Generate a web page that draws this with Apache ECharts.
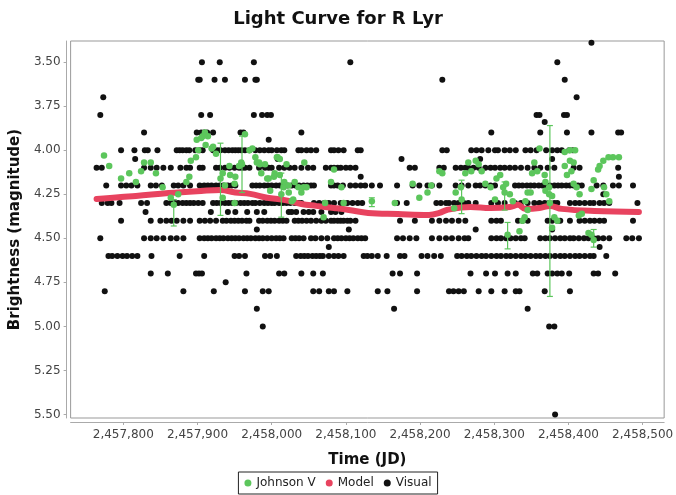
<!DOCTYPE html>
<html><head><meta charset="utf-8">
<script src="https://cdn.jsdelivr.net/npm/echarts@6/dist/echarts.min.js"></script>
<style>html,body{margin:0;padding:0;background:#fff}#c{width:676px;height:495px}</style>
</head><body><div id="c"></div>
<script>
const JD0 = 2457000;
const xTicks = [2457800, 2457900, 2458000, 2458100, 2458200, 2458300, 2458400, 2458500];
const yTicks = [3.5, 3.75, 4.0, 4.25, 4.5, 4.75, 5.0, 5.25, 5.5];

// Visual observations: magnitude rows and the days (JD - JD0) observed at each
const visualMags = [3.39, 3.5, 3.6, 3.7, 3.8, 3.84, 3.9, 3.94, 4.0, 4.05, 4.1, 4.15, 4.2, 4.25, 4.3, 4.35, 4.4, 4.45, 4.5, 4.55, 4.6, 4.7, 4.75, 4.8, 4.9, 5.0, 5.5];
const visualDays = [
 [1431],
 [906, 930, 976, 1106, 1385],
 [901, 903, 923, 937, 964, 978, 980, 1230, 1395],
 [773, 1411],
 [769, 905, 917, 976, 987, 994, 999, 1357, 1361, 1394, 1398],
 [1368],
 [828, 899, 905, 909, 913, 921, 958, 962, 1040, 1296, 1362, 1398, 1431, 1467, 1471],
 [996],
 [797, 815, 829, 833, 846, 872, 876, 880, 885, 889, 897, 903, 907, 921, 927, 931, 937, 942, 947, 951, 955, 959, 964, 970, 978, 984, 990, 996, 1000, 1007, 1013, 1017, 1036, 1040, 1047, 1053, 1060, 1080, 1084, 1090, 1097, 1116, 1120, 1230, 1236, 1269, 1276, 1283, 1292, 1301, 1305, 1314, 1321, 1329, 1342, 1349, 1357, 1370, 1378, 1385, 1391, 1401, 1406],
 [816, 1008, 1175, 1281, 1378],
 [764, 771, 828, 837, 845, 854, 864, 877, 885, 890, 903, 907, 925, 930, 937, 943, 950, 956, 960, 964, 970, 983, 991, 996, 1000, 1010, 1017, 1024, 1031, 1040, 1049, 1056, 1073, 1080, 1084, 1089, 1093, 1100, 1106, 1113, 1186, 1193, 1226, 1232, 1248, 1255, 1261, 1265, 1272, 1279, 1288, 1295, 1301, 1308, 1314, 1321, 1328, 1336, 1345, 1354, 1362, 1372, 1381, 1407, 1415, 1467],
 [1120, 1468],
 [777, 797, 804, 811, 819, 837, 844, 852, 868, 874, 881, 890, 903, 909, 914, 919, 925, 930, 935, 941, 946, 951, 974, 979, 984, 990, 995, 1000, 1006, 1011, 1016, 1021, 1027, 1032, 1037, 1043, 1048, 1053, 1057, 1080, 1084, 1089, 1096, 1106, 1113, 1120, 1126, 1135, 1146, 1169, 1190, 1199, 1210, 1216, 1226, 1248, 1256, 1265, 1275, 1281, 1288, 1295, 1301, 1328, 1333, 1338, 1344, 1349, 1354, 1360, 1365, 1370, 1375, 1381, 1386, 1391, 1397, 1402, 1407, 1413, 1418, 1438, 1447, 1460, 1468, 1487],
 [1447],
 [771, 779, 784, 795, 824, 832, 858, 864, 869, 874, 880, 885, 890, 895, 901, 907, 921, 926, 931, 937, 942, 947, 952, 958, 963, 968, 974, 978, 984, 990, 995, 1000, 1004, 1010, 1015, 1020, 1025, 1031, 1036, 1040, 1057, 1064, 1071, 1077, 1084, 1093, 1097, 1102, 1109, 1116, 1122, 1169, 1182, 1222, 1228, 1235, 1239, 1246, 1252, 1259, 1265, 1275, 1296, 1305, 1314, 1328, 1336, 1345, 1354, 1361, 1368, 1374, 1381, 1385, 1402, 1409, 1415, 1422, 1429, 1434, 1442, 1448, 1455, 1493],
 [830, 918, 941, 951, 967, 980, 990, 1023, 1027, 1033, 1043, 1050, 1056, 1067, 1080, 1086, 1094],
 [797, 837, 850, 858, 865, 872, 881, 890, 903, 910, 917, 925, 934, 939, 945, 950, 955, 960, 966, 970, 983, 988, 994, 999, 1004, 1010, 1015, 1020, 1031, 1036, 1041, 1047, 1053, 1060, 1067, 1073, 1080, 1084, 1089, 1093, 1097, 1102, 1106, 1113, 1173, 1193, 1216, 1226, 1235, 1243, 1252, 1261, 1296, 1303, 1309, 1332, 1338, 1345, 1372, 1378, 1385, 1389, 1402, 1415, 1422, 1429, 1435, 1442, 1448, 1487],
 [980, 1104, 1275, 1378],
 [769, 828, 837, 845, 854, 864, 872, 881, 903, 909, 914, 919, 925, 930, 935, 941, 946, 951, 956, 962, 967, 972, 978, 983, 988, 994, 1000, 1006, 1011, 1016, 1027, 1032, 1037, 1043, 1053, 1059, 1067, 1075, 1084, 1089, 1094, 1100, 1105, 1110, 1116, 1121, 1126, 1169, 1177, 1186, 1195, 1216, 1226, 1235, 1243, 1252, 1260, 1265, 1296, 1303, 1309, 1316, 1322, 1329, 1336, 1341, 1362, 1369, 1375, 1382, 1389, 1395, 1402, 1407, 1414, 1421, 1427, 1434, 1440, 1447, 1455, 1478, 1486, 1495],
 [1077, 1442],
 [780, 785, 792, 799, 805, 812, 819, 838, 876, 909, 950, 956, 964, 991, 998, 1007, 1033, 1039, 1044, 1049, 1055, 1060, 1065, 1069, 1077, 1084, 1090, 1097, 1124, 1129, 1135, 1143, 1155, 1173, 1179, 1202, 1210, 1219, 1228, 1250, 1256, 1263, 1269, 1276, 1283, 1289, 1296, 1303, 1309, 1316, 1322, 1329, 1336, 1342, 1349, 1356, 1362, 1369, 1375, 1382, 1389, 1395, 1402, 1409, 1415, 1422, 1429, 1434, 1451],
 [837, 860, 898, 902, 906, 966, 1010, 1017, 1040, 1056, 1069, 1163, 1173, 1196, 1268, 1289, 1301, 1318, 1329, 1352, 1358, 1372, 1378, 1385, 1391, 1401, 1434, 1440, 1463],
 [938],
 [775, 881, 922, 964, 988, 996, 1056, 1064, 1077, 1084, 1102, 1143, 1156, 1196, 1239, 1245, 1252, 1259, 1279, 1296, 1314, 1329, 1334, 1368, 1402],
 [980, 1165, 1345],
 [988, 1374, 1381],
 [1382]
];

// Johnson V photometry (JD - JD0, magnitude)
const jvDays = [774, 781, 797, 808, 817, 824, 828, 837, 844, 853, 864, 868, 874, 885, 889, 891, 898, 899, 901, 905, 907, 910, 911, 914, 919, 921, 925, 931, 934, 934, 937, 943, 944, 950, 950, 951, 956, 959, 960, 964, 970, 974, 978, 980, 983, 984, 986, 991, 994, 996, 998, 1003, 1004, 1007, 1008, 1011, 1011, 1013, 1016, 1017, 1020, 1023, 1023, 1027, 1029, 1031, 1036, 1040, 1043, 1044, 1047, 1070, 1072, 1080, 1084, 1094, 1097,
 1135, 1166, 1190, 1199, 1210, 1215, 1226, 1230, 1246, 1248, 1255, 1256, 1261, 1265, 1269, 1275, 1279, 1283, 1288, 1295, 1301, 1303, 1308, 1312, 1314, 1316, 1318, 1321, 1325,
 1334, 1338, 1341, 1342, 1345, 1345, 1349, 1351, 1354, 1358, 1361, 1368, 1369, 1369, 1374, 1374, 1375, 1378, 1378, 1381, 1385, 1395, 1395, 1398, 1402, 1402, 1404, 1407, 1407, 1409, 1411, 1414, 1415, 1418, 1427, 1431, 1431, 1434, 1434, 1440, 1442, 1447, 1448, 1451, 1454, 1455, 1460, 1468];
const jvMags = [4.03, 4.09, 4.16, 4.13, 4.18, 4.12, 4.07, 4.07, 4.13, 4.21, 4.27, 4.31, 4.25, 4.18, 4.15, 4.06, 4.04, 3.94, 4.00, 3.93, 3.92, 3.90, 3.97, 3.92, 3.99, 3.98, 4.02, 4.16, 4.13, 4.27, 4.20, 4.09, 4.14, 4.19, 4.30, 4.15, 4.09, 4.07, 4.08, 3.91, 4.00, 3.99, 4.04, 4.07, 4.07, 4.08, 4.13, 4.08, 4.16, 4.16, 4.23, 4.15, 4.13, 4.04, 4.04, 4.05, 4.14, 4.25, 4.21, 4.18, 4.08, 4.24, 4.20, 4.29, 4.28, 4.18, 4.21, 4.24, 4.21, 4.07, 4.21, 4.38, 4.30, 4.18, 4.11, 4.21, 4.30,
 4.29, 4.30, 4.19, 4.27, 4.24, 4.20, 4.12, 4.13, 4.33, 4.24, 4.21, 4.28, 4.13, 4.07, 4.12, 4.06, 4.08, 4.12, 4.19, 4.21, 4.28, 4.16, 4.14, 4.21, 4.24, 4.19, 4.48, 4.25, 4.29,
 4.46, 4.40, 4.38, 4.29, 4.34, 4.24, 4.24, 4.13, 4.07, 4.12, 3.99, 4.14, 4.18, 4.23, 4.21, 4.25, 4.30, 4.26, 4.44, 4.38, 4.40, 4.01, 4.09, 4.14, 4.00, 4.06, 4.12, 4.07, 4.19, 4.00, 4.21, 4.37, 4.25, 4.36, 4.47, 4.48, 4.22, 4.17, 4.51, 4.11, 4.09, 4.06, 4.21, 4.25, 4.04, 4.29, 4.04, 4.04];

// Johnson V error bars (JD - JD0, bright end, faint end)
const errDays = [868, 931, 960, 1013, 1135, 1256, 1314, 1318, 1375, 1434];
const errLow  = [4.28, 3.96, 3.92, 4.13, 4.27, 4.17, 4.18, 4.41, 3.86, 4.45];
const errHigh = [4.43, 4.37, 4.24, 4.38, 4.32, 4.36, 4.34, 4.56, 4.83, 4.55];

// Model curve (JD - JD0, magnitude)
const modelDays = [764, 797, 817, 861, 905, 931, 951, 971, 994, 1016, 1040, 1060, 1084, 1104, 1130, 1170, 1212, 1226, 1236, 1268, 1295, 1321, 1332, 1342, 1361, 1375, 1391, 1435, 1495];
const modelMags = [4.277, 4.265, 4.26, 4.243, 4.231, 4.226, 4.24, 4.248, 4.27, 4.282, 4.305, 4.316, 4.328, 4.339, 4.356, 4.362, 4.367, 4.356, 4.339, 4.322, 4.328, 4.322, 4.31, 4.333, 4.328, 4.316, 4.333, 4.345, 4.35];

const visualData = [];
visualMags.forEach((m, i) => visualDays[i].forEach(d => visualData.push([JD0 + d, m])));
const jvData = jvDays.map((d, i) => [JD0 + d, jvMags[i]]);
const modelData = modelDays.map((d, i) => [JD0 + d, modelMags[i]]);
const errData = errDays.map((d, i) => [JD0 + d, errLow[i], errHigh[i]]);

const GREEN = '#5cc65c', RED = '#e8435f', BLACK = '#111';
const FONT = 'DejaVu Sans';

const chart = echarts.init(document.getElementById('c'), null, {renderer: 'canvas'});
chart.setOption({
  animation: false,
  backgroundColor: '#fff',
  title: {
    text: 'Light Curve for R Lyr', left: 'center', top: 5,
    textStyle: {fontFamily: FONT, fontWeight: 'bold', fontSize: 18, color: '#111'}
  },
  legend: {
    bottom: 1, left: 'center',
    data: ['Johnson V', 'Model', 'Visual'],
    icon: 'circle', itemWidth: 7, itemHeight: 7, itemGap: 10,
    borderColor: '#222', borderWidth: 1, padding: [5, 6],
    textStyle: {fontFamily: FONT, fontSize: 12, color: '#222'}
  },
  grid: {left: 66, right: 7, top: 41, bottom: 77, show: true, borderColor: '#999', borderWidth: 1},
  xAxis: {
    type: 'value', min: 2457729, max: 2458529, offset: 4,
    name: 'Time (JD)', nameLocation: 'middle', nameGap: 31,
    nameTextStyle: {fontFamily: FONT, fontWeight: 'bold', fontSize: 15, color: '#111'},
    axisLine: {show: true, lineStyle: {color: '#aaa'}},
    axisTick: {show: true, length: 3, customValues: xTicks, lineStyle: {color: '#aaa'}},
    axisLabel: {customValues: xTicks, fontFamily: FONT, fontSize: 12, color: '#444', margin: 7,
      formatter: v => Math.round(v).toLocaleString('en-US')},
    splitLine: {show: false}
  },
  yAxis: {
    type: 'value', inverse: true, min: 3.38, max: 5.52, offset: 4,
    name: 'Brightness (magnitude)', nameLocation: 'middle', nameGap: 41,
    nameTextStyle: {fontFamily: FONT, fontWeight: 'bold', fontSize: 15, color: '#111'},
    axisLine: {show: true, lineStyle: {color: '#aaa'}},
    axisTick: {show: true, length: 3, customValues: yTicks, lineStyle: {color: '#aaa'}},
    axisLabel: {customValues: yTicks, fontFamily: FONT, fontSize: 12, color: '#444', margin: 6,
      formatter: v => v.toFixed(2)},
    splitLine: {show: false}
  },
  series: [
    {name: 'Visual', type: 'scatter', data: visualData, symbolSize: 6,
     itemStyle: {color: BLACK, opacity: 1}, z: 2},
    {name: 'Model', type: 'line', data: modelData, smooth: 0.4, showSymbol: false,
     lineStyle: {color: RED, width: 6, cap: 'round'}, itemStyle: {color: RED}, z: 3},
    {name: 'Johnson V', type: 'scatter', data: jvData, symbolSize: 6.5,
     itemStyle: {color: GREEN, opacity: 1}, z: 4},
    {name: 'JVerr', type: 'custom', data: errData, z: 4, silent: true,
     renderItem: (params, api) => {
       const x = api.value(0);
       const p1 = api.coord([x, api.value(1)]);
       const p2 = api.coord([x, api.value(2)]);
       const st = {stroke: GREEN, lineWidth: 1.2};
       return {type: 'group', children: [
         {type: 'line', shape: {x1: p1[0], y1: p1[1], x2: p2[0], y2: p2[1]}, style: st},
         {type: 'line', shape: {x1: p1[0] - 3, y1: p1[1], x2: p1[0] + 3, y2: p1[1]}, style: st},
         {type: 'line', shape: {x1: p2[0] - 3, y1: p2[1], x2: p2[0] + 3, y2: p2[1]}, style: st}
       ]};
     }}
  ]
});
</script></body></html>
